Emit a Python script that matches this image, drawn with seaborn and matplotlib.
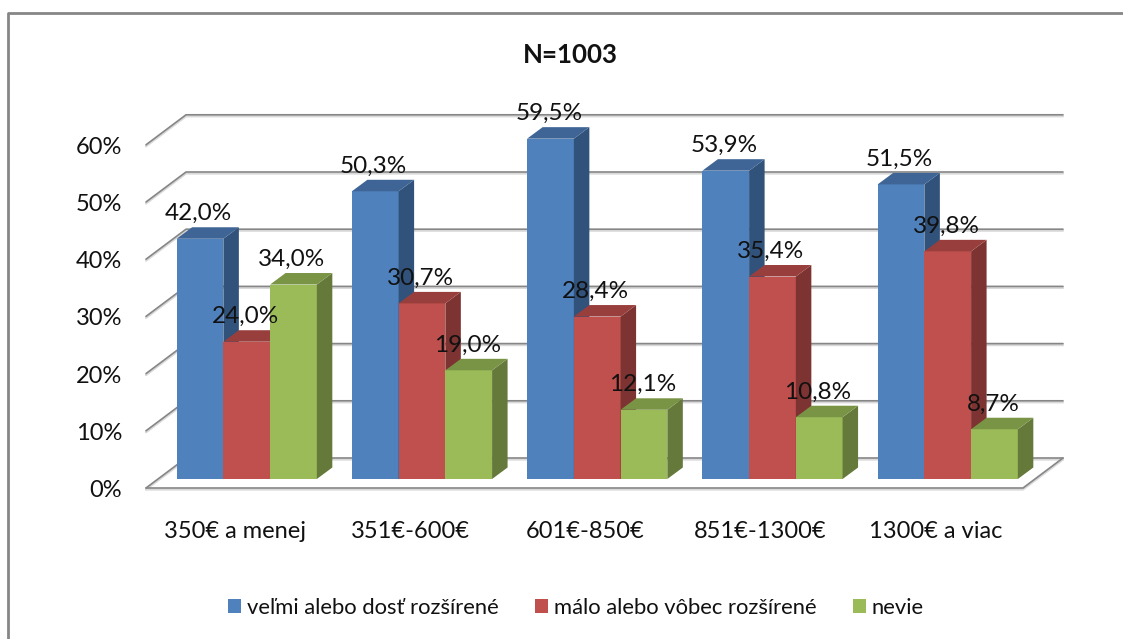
import matplotlib
matplotlib.use("Agg")
import matplotlib.pyplot as plt
from matplotlib.lines import Line2D
from matplotlib.patches import Polygon
from matplotlib.transforms import offset_copy
import pandas as pd
import seaborn as sns

categories = ["350€ a menej", "351€-600€", "601€-850€", "851€-1300€", "1300€ a viac"]
series_names = ["veľmi alebo dosť rozšírené", "málo alebo vôbec rozšírené", "nevie"]
very = [42.0, 50.3, 59.5, 53.9, 51.5]
little = [24.0, 30.7, 28.4, 35.4, 39.8]
unknown = [34.0, 19.0, 12.1, 10.8, 8.7]
y_ticks = [0, 10, 20, 30, 40, 50, 60]

front_colors = ["#4f81bd", "#c0504d", "#9bbb59"]
side_colors = ["#31527a", "#7d3331", "#64793a"]
top_colors = ["#3e6595", "#983f3d", "#7a9446"]

W, H = 1123, 639
sns.set_theme(style="white")
plt.rcParams["font.family"] = ["Lato", "DejaVu Sans"]

df = pd.DataFrame({
    "cat": categories * 3,
    "val": very + little + unknown,
    "name": [n for n in series_names for _ in categories],
})

fig = plt.figure(figsize=(W / 100, H / 100), dpi=100)
# axes placed so the front of the bars lands on the same pixels as the original
ax = fig.add_axes([159.1 / W, (H - 479) / H, 876.25 / W, 400.4 / H])
sns.barplot(data=df, x="cat", y="val", hue="name", palette=front_colors,
            saturation=1, width=0.8, ax=ax, linewidth=0)
ax.set_xlim(-0.5, 4.5)
ax.set_ylim(0, 70)
ax.set_xlabel("")
ax.set_ylabel("")
sns.despine(ax=ax, left=True, bottom=True)
ax.patch.set_alpha(0)

# px -> data
px_x = 5 / 876.25
px_y = 70 / 400.4
bar_dx, bar_dy = 15.5 * px_x, 11.5 * px_y
wall_x0 = (146 - 159.1) * px_x - 0.5
wall_x1 = (1023 - 159.1) * px_x - 0.5
wall_dx, wall_dy = 40 * px_x, 30 * px_y
floor_y = -9 * px_y
grid_c = "#868686"
text_c = "#111111"


def wall_line(xs, ys):
    ax.add_line(Line2D(xs, ys, color="#d9d9d9", lw=1.6, clip_on=False, zorder=0.9,
                       transform=offset_copy(ax.transData, fig, y=-1.5, units="dots")))
    ax.add_line(Line2D(xs, ys, color=grid_c, lw=1.2, clip_on=False, zorder=1))


for t in y_ticks:
    y = floor_y + t
    wall_line([wall_x0, wall_x0 + wall_dx, wall_x1 + wall_dx],
              [y, y + wall_dy, y + wall_dy])
wall_line([wall_x0, wall_x1, wall_x1 + wall_dx],
          [floor_y, floor_y, floor_y + wall_dy])

# 3D faces of the bars, built from what seaborn drew
for i, cont in enumerate(ax.containers):
    for bar in cont:
        x0, w, h = bar.get_x(), bar.get_width(), bar.get_height()
        x1 = x0 + w
        bar.set_zorder(3 + i)
        ax.add_patch(Polygon([(x1, 0), (x1 + bar_dx, bar_dy), (x1 + bar_dx, h + bar_dy), (x1, h)],
                             fc=side_colors[i], ec="none", clip_on=False, zorder=3 + i))
        ax.add_patch(Polygon([(x0, h), (x1, h), (x1 + bar_dx, h + bar_dy), (x0 + bar_dx, h + bar_dy)],
                             fc=top_colors[i], ec="none", clip_on=False, zorder=3 + i))
        ax.annotate(f"{h:.1f}%".replace(".", ","), (x0 + w / 2, h), xytext=(-1.5, 25),
                    textcoords="offset pixels", ha="center", va="center",
                    fontsize=17.5, color=text_c, zorder=10, annotation_clip=False)

ax.set_yticks(y_ticks)
ax.set_yticklabels([f"{t}%" for t in y_ticks])
ax.tick_params(axis="both", length=0, colors=text_c, labelsize=17)
ax.tick_params(axis="y", pad=26.7)
ax.tick_params(axis="x", pad=30.5)
for lab in ax.get_yticklabels():
    lab.set_transform(offset_copy(lab.get_transform(), fig, y=-9.5, units="dots"))
for lab in ax.get_xticklabels():
    lab.set_transform(offset_copy(lab.get_transform(), fig, x=-12, units="dots"))

fig.text(570 / W, (H - 55) / H, "N=1003", ha="center", va="center",
         fontsize=18.6, fontweight="bold", color=text_c)

sns.move_legend(ax, "center", bbox_to_anchor=(576 / W, (H - 608) / H),
                bbox_transform=fig.transFigure, ncol=3, title=None, frameon=False,
                fontsize=15.8, handlelength=0.58, handleheight=0.58,
                handletextpad=0.27, columnspacing=1.67, labelcolor=text_c)

# chart frame, only left and top fall inside the image
frame = Line2D([8 / W, 8 / W, 1], [0, (H - 12.5) / H, (H - 12.5) / H],
               color="#868686", lw=2, transform=fig.transFigure)
fig.add_artist(frame)

fig.savefig("out.png", dpi=100)
